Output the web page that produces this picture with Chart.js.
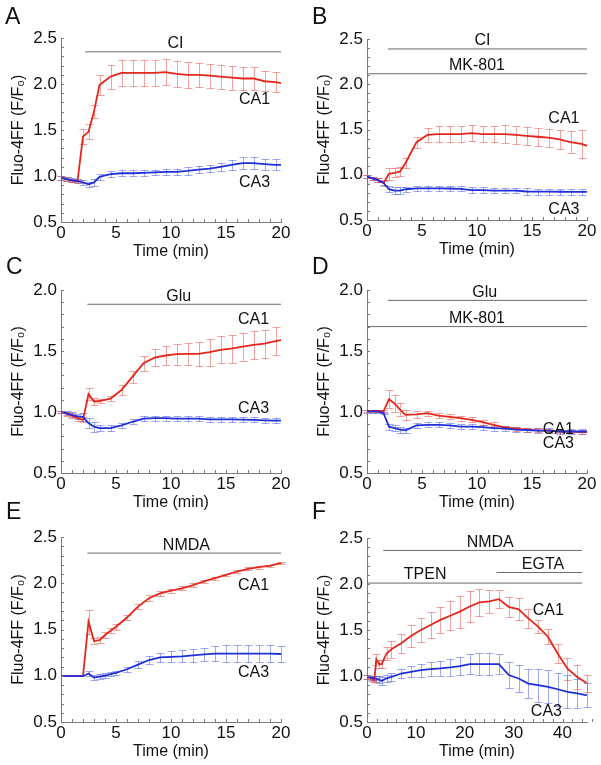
<!DOCTYPE html>
<html lang="en">
<head>
<meta charset="UTF-8">
<title>Fluo-4FF responses in CA1 and CA3</title>
<script src="https://cdn.jsdelivr.net/npm/chart.js"></script>
<style>
  body { margin: 0; background: #fff; font-family: "Liberation Sans", Arial, sans-serif; }
  #fig { position: relative; width: 601px; height: 765px; }
  canvas { position: absolute; }
  .tag { position: absolute; font-size: 23px; line-height: 23px; color: #111; }
</style>
</head>
<body>
<div id="fig">
  <canvas id="cA" width="300" height="261" style="left:0;top:0"></canvas>
  <canvas id="cB" width="295" height="259" style="left:306px;top:0"></canvas>
  <canvas id="cC" width="300" height="257" style="left:0;top:255px"></canvas>
  <canvas id="cD" width="295" height="257" style="left:306px;top:255px"></canvas>
  <canvas id="cE" width="300" height="251" style="left:0;top:510px"></canvas>
  <canvas id="cF" width="295" height="251" style="left:306px;top:510px"></canvas>
  <div class="tag" style="left:5px;top:5px">A</div>
  <div class="tag" style="left:312px;top:5px">B</div>
  <div class="tag" style="left:6px;top:255px">C</div>
  <div class="tag" style="left:312px;top:255px">D</div>
  <div class="tag" style="left:6px;top:500px">E</div>
  <div class="tag" style="left:312px;top:500px">F</div>
</div>
<script>
// ---- time axes (min) ----
const time20 = [0, 0.5, 1, 1.5, 2, 2.5, 3, 3.5, 4.5, 5.5, 6.5, 7.5, 8.5, 9.5, 10.5, 11.5, 12.5, 13.5, 14.5, 15.5, 16.5, 17.5, 18.5, 19.5, 20];
const timeE = [0, 0.5, 1, 1.5, 2, 2.5, 3, 3.5, 4, 4.5, 5, 6, 7, 8, 9, 10, 11, 12, 13, 14, 15, 16, 17, 18, 19, 20];
const timeF = [0, 1, 1.5, 1.9, 2.5, 3, 4, 5, 7, 9, 11, 13, 15, 17, 19, 21, 23, 25, 27, 29, 31, 33, 35, 37, 39, 41, 43, 45];

// ---- A: CI ----
const ca1A = [0.98, 0.965, 0.95, 0.94, 1.43, 1.48, 1.70, 1.99, 2.08, 2.12, 2.12, 2.12, 2.12, 2.13, 2.11, 2.10, 2.10, 2.09, 2.08, 2.07, 2.06, 2.06, 2.03, 2.02, 2.01];
const ca1ErrA = [0.02, 0.02, 0.02, 0.02, 0.08, 0.08, 0.07, 0.11, 0.13, 0.14, 0.145, 0.145, 0.145, 0.145, 0.14, 0.14, 0.13, 0.13, 0.13, 0.13, 0.12, 0.12, 0.11, 0.11, 0];
const ca3A = [0.98, 0.965, 0.955, 0.945, 0.93, 0.91, 0.93, 0.99, 1.02, 1.03, 1.03, 1.035, 1.04, 1.045, 1.045, 1.055, 1.07, 1.08, 1.10, 1.12, 1.14, 1.14, 1.13, 1.12, 1.12];
const ca3ErrA = [0.02, 0.02, 0.02, 0.02, 0.03, 0.03, 0.04, 0.03, 0.03, 0.03, 0.03, 0.03, 0.03, 0.035, 0.035, 0.04, 0.04, 0.04, 0.045, 0.05, 0.065, 0.065, 0.06, 0.06, 0];

// ---- B: CI + MK-801 ----
const ca1B = [0.98, 0.96, 0.94, 0.91, 1.01, 1.02, 1.035, 1.13, 1.36, 1.44, 1.45, 1.45, 1.45, 1.46, 1.45, 1.45, 1.45, 1.44, 1.43, 1.42, 1.41, 1.39, 1.36, 1.34, 1.32];
const ca1ErrB = [0.02, 0.02, 0.02, 0.03, 0.07, 0.05, 0.05, 0.06, 0.06, 0.08, 0.085, 0.085, 0.085, 0.09, 0.09, 0.09, 0.095, 0.095, 0.1, 0.1, 0.1, 0.105, 0.12, 0.15, 0];
const ca3B = [0.98, 0.96, 0.94, 0.91, 0.84, 0.825, 0.825, 0.84, 0.85, 0.85, 0.85, 0.848, 0.845, 0.83, 0.83, 0.825, 0.825, 0.825, 0.815, 0.813, 0.813, 0.812, 0.81, 0.81, 0.81];
const ca3ErrB = [0.02, 0.02, 0.02, 0.02, 0.035, 0.035, 0.035, 0.03, 0.03, 0.03, 0.03, 0.03, 0.03, 0.03, 0.03, 0.03, 0.03, 0.03, 0.035, 0.035, 0.035, 0.035, 0.035, 0.035, 0];

// ---- C: Glu ----
const ca1C = [1.0, 0.985, 0.97, 0.95, 0.935, 1.146, 1.086, 1.09, 1.11, 1.18, 1.29, 1.40, 1.446, 1.463, 1.474, 1.476, 1.476, 1.49, 1.51, 1.52, 1.536, 1.55, 1.56, 1.58, 1.59];
const ca1ErrC = [0.01, 0.015, 0.02, 0.02, 0.02, 0.05, 0.025, 0.02, 0.02, 0.04, 0.05, 0.06, 0.07, 0.08, 0.085, 0.09, 0.1, 0.11, 0.11, 0.115, 0.115, 0.115, 0.115, 0.113, 0];
const ca3C = [1.0, 0.99, 0.977, 0.964, 0.96, 0.91, 0.88, 0.868, 0.868, 0.89, 0.92, 0.945, 0.95, 0.95, 0.945, 0.945, 0.945, 0.94, 0.94, 0.94, 0.938, 0.935, 0.932, 0.93, 0.93];
const ca3ErrC = [0.01, 0.015, 0.02, 0.02, 0.03, 0.04, 0.04, 0.025, 0.025, 0.02, 0.02, 0.02, 0.02, 0.02, 0.02, 0.02, 0.02, 0.02, 0.02, 0.02, 0.02, 0.02, 0.02, 0.02, 0];

// ---- D: Glu + MK-801 ----
const ca1D = [1.01, 1.01, 1.01, 1.005, 1.105, 1.07, 1.02, 0.977, 0.98, 0.99, 0.97, 0.96, 0.95, 0.936, 0.917, 0.895, 0.874, 0.863, 0.855, 0.85, 0.848, 0.84, 0.84, 0.835, 0.835];
const ca1ErrD = [0.01, 0.01, 0.01, 0.01, 0.075, 0.07, 0.05, 0.04, 0.03, 0.02, 0.02, 0.02, 0.02, 0.02, 0.02, 0.02, 0.015, 0.015, 0.015, 0.015, 0.015, 0.015, 0.015, 0.015, 0];
const ca3D = [1.005, 1.005, 1.005, 0.99, 0.88, 0.868, 0.855, 0.85, 0.89, 0.895, 0.895, 0.89, 0.88, 0.88, 0.876, 0.868, 0.865, 0.855, 0.852, 0.847, 0.847, 0.84, 0.84, 0.84, 0.84];
const ca3ErrD = [0.01, 0.01, 0.01, 0.01, 0.025, 0.025, 0.025, 0.02, 0.02, 0.02, 0.02, 0.02, 0.02, 0.02, 0.02, 0.02, 0.02, 0.02, 0.02, 0.02, 0.02, 0.02, 0.02, 0.02, 0];

// ---- E: NMDA ----
const ca1E = [0.995, 0.995, 0.995, 0.995, 0.995, 1.585, 1.375, 1.386, 1.44, 1.487, 1.53, 1.63, 1.748, 1.838, 1.89, 1.92, 1.945, 1.98, 2.02, 2.055, 2.09, 2.127, 2.156, 2.174, 2.19, 2.218];
const ca1ErrE = [0, 0, 0, 0, 0, 0.13, 0.03, 0.03, 0.03, 0.03, 0.03, 0.03, 0.03, 0.035, 0.03, 0.02, 0.02, 0.02, 0.015, 0.015, 0.015, 0.015, 0.015, 0.015, 0.01, 0.01];
const ca3E = [0.995, 0.995, 0.995, 0.995, 0.995, 1.025, 0.98, 0.99, 1.0, 1.017, 1.03, 1.07, 1.12, 1.17, 1.198, 1.205, 1.21, 1.22, 1.23, 1.24, 1.24, 1.24, 1.24, 1.24, 1.24, 1.235];
const ca3ErrE = [0, 0, 0, 0, 0, 0.03, 0.03, 0.03, 0.025, 0.025, 0.025, 0.03, 0.035, 0.045, 0.05, 0.06, 0.065, 0.07, 0.075, 0.085, 0.09, 0.09, 0.09, 0.09, 0.09, 0.09];

// ---- F: NMDA + TPEN, then EGTA ----
const ca1F = [0.99, 0.97, 0.955, 1.18, 1.13, 1.13, 1.245, 1.29, 1.355, 1.435, 1.5, 1.555, 1.61, 1.655, 1.70, 1.755, 1.80, 1.81, 1.835, 1.75, 1.725, 1.627, 1.536, 1.427, 1.245, 1.08, 0.99, 0.92];
const ca1ErrF = [0.02, 0.02, 0.02, 0.06, 0.04, 0.04, 0.07, 0.09, 0.1, 0.12, 0.13, 0.14, 0.145, 0.16, 0.175, 0.17, 0.145, 0.13, 0.1, 0.11, 0.12, 0.1, 0.07, 0.08, 0.1, 0.12, 0.13, 0.09];
const ca3F = [0.99, 0.98, 0.975, 0.97, 0.96, 0.945, 0.975, 0.99, 1.027, 1.045, 1.064, 1.075, 1.082, 1.093, 1.107, 1.13, 1.13, 1.13, 1.13, 1.01, 0.973, 0.918, 0.90, 0.882, 0.856, 0.827, 0.81, 0.79];
const ca3ErrF = [0.02, 0.02, 0.02, 0.03, 0.04, 0.045, 0.04, 0.04, 0.05, 0.06, 0.07, 0.075, 0.08, 0.09, 0.1, 0.11, 0.118, 0.115, 0.105, 0.145, 0.15, 0.16, 0.18, 0.18, 0.18, 0.18, 0.16, 0.13];

// ---- drug application bars: name, start, end, level (F/F0), label x ----
const barNamesA = ['CI'],                    barFromA = [2.2],            barToA = [20],         barLevelA = [2.35],              barTextA = [10.4];
const barNamesB = ['CI', 'MK-801'],          barFromB = [1.9, 0],         barToB = [20, 20],     barLevelB = [2.39, 2.116],       barTextB = [10.5, 10];
const barNamesC = ['Glu'],                   barFromC = [2.4],            barToC = [20],         barLevelC = [1.883],             barTextC = [10.7];
const barNamesD = ['Glu', 'MK-801'],         barFromD = [1.9, 0],         barToD = [20, 20],     barLevelD = [1.915, 1.70],       barTextD = [10.7, 10];
const barNamesE = ['NMDA'],                  barFromE = [2.4],            barToE = [20],         barLevelE = [2.326],             barTextE = [11.4];
const barNamesF = ['NMDA', 'EGTA', 'TPEN'],  barFromF = [3.3, 26.5, 0],   barToF = [44, 44, 44], barLevelF = [2.365, 2.125, 2.01], barTextF = [25.2, 36, 11.9];

// ---- series labels (CA1, CA3) ----
const seriesNames = ['CA1', 'CA3'];
const tagXA = [17.6, 17.6], tagYA = [1.83, 0.93];
const tagXB = [17.9, 17.9], tagYB = [1.625, 0.62];
const tagXC = [17.5, 17.5], tagYC = [1.76, 1.026];
const tagXD = [17.4, 17.4], tagYD = [0.855, 0.737];
const tagXE = [17.5, 17.5], tagYE = [1.97, 1.03];
const tagXF = [37.1, 36.7], tagYF = [1.707, 0.61];

const RED = '#e4261c', BLUE = '#1e2fd8';
const RED_ERR = 'rgba(232,70,60,0.5)', BLUE_ERR = 'rgba(60,80,232,0.5)';
const AXIS = '#7a7a7a', INK = '#111';
const FAMILY = '"Liberation Sans", Arial, sans-serif';

function pts(t, v) { return t.map((x, i) => ({ x: x, y: v[i] })); }

const figPlugin = {
  id: 'fig',
  beforeDatasetsDraw(chart) {
    const ctx = chart.ctx, xs = chart.scales.x, ys = chart.scales.y;
    chart.data.datasets.forEach(ds => {
      if (!ds.err) return;
      ctx.save();
      ctx.strokeStyle = ds.errColor;
      ctx.lineWidth = 1;
      ds.data.forEach((p, i) => {
        const e = ds.err[i];
        if (!e) return;
        const px = Math.round(xs.getPixelForValue(p.x)) + 0.5;
        const top = Math.round(ys.getPixelForValue(p.y + e)) + 0.5;
        const bot = Math.round(ys.getPixelForValue(p.y - e)) + 0.5;
        ctx.beginPath();
        ctx.moveTo(px, top); ctx.lineTo(px, bot);
        ctx.moveTo(px - 4, top); ctx.lineTo(px + 4, top);
        ctx.moveTo(px - 4, bot); ctx.lineTo(px + 4, bot);
        ctx.stroke();
      });
      ctx.restore();
    });
  },
  afterDraw(chart) {
    const o = chart.options.plugins.fig;
    const ctx = chart.ctx, xs = chart.scales.x, ys = chart.scales.y, a = chart.chartArea;
    ctx.save();
    // inward minor ticks
    ctx.strokeStyle = AXIS;
    ctx.lineWidth = 1;
    ctx.beginPath();
    const nx = Math.round((xs.max - xs.min) / o.xMinor);
    for (let i = 0; i <= nx; i++) {
      const px = Math.round(xs.getPixelForValue(xs.min + i * o.xMinor)) + 0.5;
      ctx.moveTo(px, a.bottom); ctx.lineTo(px, a.bottom - 3);
    }
    const ny = Math.round((ys.max - ys.min) / 0.1);
    for (let i = 0; i <= ny; i++) {
      const py = Math.round(ys.getPixelForValue(ys.min + i * 0.1)) + 0.5;
      ctx.moveTo(a.left, py); ctx.lineTo(a.left + 3, py);
    }
    ctx.stroke();
    // texts
    ctx.fillStyle = INK;
    ctx.font = '16px ' + FAMILY;
    ctx.textAlign = 'center';
    ctx.textBaseline = 'middle';
    o.bars.names.forEach((n, i) => {
      ctx.fillText(n, xs.getPixelForValue(o.bars.text[i]), ys.getPixelForValue(o.bars.level[i]) - 8);
    });
    seriesNames.forEach((n, i) => {
      ctx.fillText(n, xs.getPixelForValue(o.tagX[i]), ys.getPixelForValue(o.tagY[i]));
    });
    ctx.restore();
  }
};

function makePanel(id, cfg) {
  const datasets = [];
  cfg.bars.names.forEach((n, i) => {
    datasets.push({
      data: [{ x: cfg.bars.from[i], y: cfg.bars.level[i] }, { x: cfg.bars.to[i], y: cfg.bars.level[i] }],
      borderColor: '#6a6a6a', borderWidth: 1, pointRadius: 0
    });
  });
  datasets.push({ data: pts(cfg.t, cfg.ca3), err: cfg.ca3Err, errColor: BLUE_ERR,
    borderColor: BLUE, borderWidth: 1.8, pointRadius: 0, tension: 0 });
  datasets.push({ data: pts(cfg.t, cfg.ca1), err: cfg.ca1Err, errColor: RED_ERR,
    borderColor: RED, borderWidth: 1.8, pointRadius: 0, tension: 0 });

  new Chart(document.getElementById(id), {
    type: 'line',
    data: { datasets: datasets },
    plugins: [figPlugin],
    options: {
      responsive: false,
      animation: false,
      layout: { padding: { top: cfg.padTop, right: cfg.padRight, left: 0, bottom: 0 } },
      plugins: {
        legend: { display: false },
        tooltip: { enabled: false },
        fig: { xMinor: cfg.xMinor, bars: cfg.bars, tagX: cfg.tagX, tagY: cfg.tagY }
      },
      scales: {
        x: {
          type: 'linear', min: 0, max: cfg.xMax,
          grid: { display: false, drawTicks: false },
          border: { display: true, color: AXIS, width: 1 },
          afterBuildTicks: s => {
            const list = [];
            for (let v = 0; v <= cfg.xMax; v += cfg.xStep) list.push({ value: v });
            s.ticks = list;
          },
          afterFit: s => { s.height = 39; },
          ticks: { padding: 1, color: INK, maxRotation: 0, autoSkip: false,
            font: { size: 17, family: FAMILY, weight: 'normal' } },
          title: { display: true, text: 'Time (min)', color: INK, padding: 0,
            font: { size: 16, family: FAMILY, weight: 'normal' } }
        },
        y: {
          min: 0.5, max: cfg.yMax,
          grid: { display: false, drawTicks: false },
          border: { display: true, color: AXIS, width: 1 },
          afterFit: s => { s.width = 61; },
          ticks: { stepSize: 0.5, padding: 4, color: INK, callback: v => v.toFixed(1),
            font: { size: 17, family: FAMILY, weight: 'normal' } },
          title: { display: true, text: 'Fluo-4FF (F/F\u2080)', color: INK, padding: { top: 9, bottom: 0 },
            font: { size: 16, family: FAMILY, weight: 'normal' } }
        }
      }
    }
  });
}

makePanel('cA', { t: time20, ca1: ca1A, ca1Err: ca1ErrA, ca3: ca3A, ca3Err: ca3ErrA, xMax: 20, xStep: 5, xMinor: 1, yMax: 2.5,
  padTop: 38, padRight: 19, tagX: tagXA, tagY: tagYA,
  bars: { names: barNamesA, from: barFromA, to: barToA, level: barLevelA, text: barTextA } });
makePanel('cB', { t: time20, ca1: ca1B, ca1Err: ca1ErrB, ca3: ca3B, ca3Err: ca3ErrB, xMax: 20, xStep: 5, xMinor: 1, yMax: 2.5,
  padTop: 39, padRight: 14, tagX: tagXB, tagY: tagYB,
  bars: { names: barNamesB, from: barFromB, to: barToB, level: barLevelB, text: barTextB } });
makePanel('cC', { t: time20, ca1: ca1C, ca1Err: ca1ErrC, ca3: ca3C, ca3Err: ca3ErrC, xMax: 20, xStep: 5, xMinor: 1, yMax: 2.0,
  padTop: 35, padRight: 19, tagX: tagXC, tagY: tagYC,
  bars: { names: barNamesC, from: barFromC, to: barToC, level: barLevelC, text: barTextC } });
makePanel('cD', { t: time20, ca1: ca1D, ca1Err: ca1ErrD, ca3: ca3D, ca3Err: ca3ErrD, xMax: 20, xStep: 5, xMinor: 1, yMax: 2.0,
  padTop: 35, padRight: 14, tagX: tagXD, tagY: tagYD,
  bars: { names: barNamesD, from: barFromD, to: barToD, level: barLevelD, text: barTextD } });
makePanel('cE', { t: timeE, ca1: ca1E, ca1Err: ca1ErrE, ca3: ca3E, ca3Err: ca3ErrE, xMax: 20, xStep: 5, xMinor: 1, yMax: 2.5,
  padTop: 27, padRight: 19, tagX: tagXE, tagY: tagYE,
  bars: { names: barNamesE, from: barFromE, to: barToE, level: barLevelE, text: barTextE } });
makePanel('cF', { t: timeF, ca1: ca1F, ca1Err: ca1ErrF, ca3: ca3F, ca3Err: ca3ErrF, xMax: 45, xStep: 10, xMinor: 2, yMax: 2.5,
  padTop: 28, padRight: 14, tagX: tagXF, tagY: tagYF,
  bars: { names: barNamesF, from: barFromF, to: barToF, level: barLevelF, text: barTextF } });
</script>
</body>
</html>
